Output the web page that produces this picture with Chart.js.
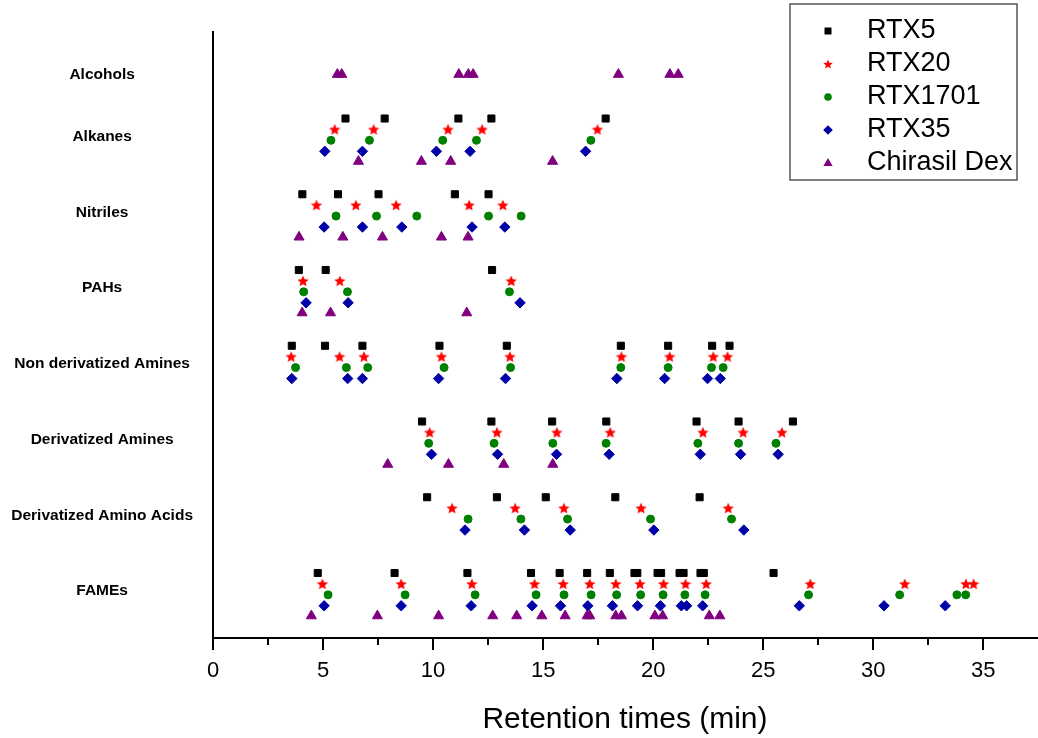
<!DOCTYPE html>
<html>
<head>
<meta charset="utf-8">
<script src="https://cdn.jsdelivr.net/npm/chart.js@4.4.1/dist/chart.umd.min.js"></script>
<style>
  html, body { margin: 0; padding: 0; background: #fff; }
  #wrap { width: 1038px; height: 738px; }
</style>
</head>
<body>
<div id="wrap"><canvas id="chart1" width="1038" height="738"></canvas></div>
<script>
// categories, top to bottom
const categories = ['Alcohols', 'Alkanes', 'Nitriles', 'PAHs', 'Non derivatized Amines',
  'Derivatized Amines', 'Derivatized Amino Acids', 'FAMEs'];
const seriesNames = ['RTX5', 'RTX20', 'RTX1701', 'RTX35', 'Chirasil Dex'];

// retention times (min), one row per category (same order as above)
const rtx5 = [
  [],
  [6.02, 7.80, 11.15, 12.65, 17.84],
  [4.06, 5.68, 7.52, 10.99, 12.52],
  [3.90, 5.12, 12.68],
  [3.58, 5.09, 6.79, 10.29, 13.35, 18.53, 20.68, 22.68, 23.47],
  [9.50, 12.65, 15.41, 17.87, 21.97, 23.88, 26.35],
  [9.73, 12.90, 15.12, 18.28, 22.11],
  [4.76, 8.25, 11.56, 14.45, 15.75, 17.00, 18.03, 19.15, 19.28, 20.20, 20.36, 21.20, 21.38, 22.15, 22.30, 25.47]
];
const rtx20 = [
  [],
  [5.53, 7.30, 10.68, 12.23, 17.47],
  [4.70, 6.49, 8.32, 11.64, 13.17],
  [4.09, 5.76, 13.55],
  [3.55, 5.75, 6.86, 10.38, 13.49, 18.56, 20.75, 22.73, 23.38],
  [9.84, 12.90, 15.62, 18.05, 22.26, 24.09, 25.85],
  [10.86, 13.73, 15.94, 19.45, 23.41],
  [4.97, 8.55, 11.76, 14.61, 15.91, 17.12, 18.30, 19.40, 20.47, 21.47, 22.41, 27.14, 31.43, 34.21, 34.56]
];
const rtx1701 = [
  [],
  [5.36, 7.11, 10.44, 11.97, 17.17],
  [5.59, 7.43, 9.26, 12.52, 14.00],
  [4.12, 6.11, 13.47],
  [3.75, 6.06, 7.03, 10.50, 13.52, 18.53, 20.68, 22.65, 23.18],
  [9.80, 12.77, 15.44, 17.86, 22.03, 23.88, 25.58],
  [11.59, 13.99, 16.11, 19.88, 23.56],
  [5.23, 8.73, 11.91, 14.68, 15.95, 17.18, 18.34, 19.43, 20.45, 21.44, 22.36, 27.06, 31.20, 33.80, 34.20]
];
const rtx35 = [
  [],
  [5.08, 6.79, 10.15, 11.68, 16.93],
  [5.05, 6.79, 8.58, 11.77, 13.26],
  [4.23, 6.14, 13.95],
  [3.58, 6.12, 6.79, 10.25, 13.29, 18.35, 20.52, 22.47, 23.05],
  [9.93, 12.93, 15.61, 18.00, 22.14, 23.97, 25.68],
  [11.45, 14.15, 16.23, 20.03, 24.12],
  [5.05, 8.55, 11.73, 14.50, 15.79, 17.03, 18.15, 19.29, 20.33, 21.28, 21.52, 22.25, 26.64, 30.49, 33.27]
];
const chirasilDex = [
  [5.65, 5.85, 11.17, 11.60, 11.82, 18.42, 20.76, 21.14],
  [6.61, 9.47, 10.80, 15.43],
  [3.91, 5.90, 7.70, 10.38, 11.59],
  [4.05, 5.34, 11.53],
  [],
  [7.94, 10.70, 13.21, 15.44],
  [],
  [4.47, 7.47, 10.25, 12.71, 13.80, 14.94, 16.00, 17.00, 17.12, 18.30, 18.56, 20.08, 20.43, 22.55, 23.03]
];

const xMajorTicks = [0, 5, 10, 15, 20, 25, 30, 35];
const xMinorTicks = [2.5, 7.5, 12.5, 17.5, 22.5, 27.5, 32.5];

// layout: row of each series inside a category band (band height = 1)
const rowOffset = [0.858, 0.714, 0.570, 0.425, 0.292];
const alcoholRow = 0.44;
const labelRow = 0.62;

const allSeries = [rtx5, rtx20, rtx1701, rtx35, chirasilDex];
const colors = ['#000000', '#ff0000', '#008000', '#0000a8', '#800080'];

function bandBase(ci) { return categories.length - 1 - ci; }

function makeStar(size, color) {
  const c = document.createElement('canvas');
  c.width = size; c.height = size;
  const g = c.getContext('2d');
  const cx = size / 2, cy = size / 2 + 0.5, ro = size / 2, ri = ro * 0.45;
  g.beginPath();
  for (let i = 0; i < 10; i++) {
    const r = i % 2 === 0 ? ro : ri;
    const a = -Math.PI / 2 + i * Math.PI / 5;
    g.lineTo(cx + r * Math.cos(a), cy + r * Math.sin(a));
  }
  g.closePath();
  g.fillStyle = color;
  g.fill();
  return c;
}
const starBig = makeStar(12, colors[1]);
const starSmall = makeStar(10, colors[1]);

const styles = ['rect', starBig, 'circle', 'rectRot', 'triangle'];
const radii = [5, 6, 4, 5.2, 5.8];

const datasets = allSeries.map((series, si) => {
  const pts = [];
  series.forEach((times, ci) => {
    const off = (ci === 0) ? alcoholRow : rowOffset[si];
    times.forEach(t => pts.push({ x: t, y: bandBase(ci) + off }));
  });
  return {
    label: seriesNames[si],
    data: pts,
    pointStyle: styles[si],
    pointRadius: radii[si],
    backgroundColor: colors[si],
    borderColor: colors[si],
    borderWidth: 1,
    showLine: false
  };
});

const yTicks = categories.map((c, ci) => bandBase(ci) + (ci === 0 ? alcoholRow : labelRow));

// short ticks between the labelled ones
const minorTicks = {
  id: 'minorTicks',
  afterDraw(chart) {
    const x = chart.scales.x;
    const ctx = chart.ctx;
    ctx.save();
    ctx.strokeStyle = '#000';
    ctx.lineWidth = 2;
    xMinorTicks.forEach(v => {
      const px = Math.round(x.getPixelForValue(v));
      ctx.beginPath();
      ctx.moveTo(px, x.top);
      ctx.lineTo(px, x.top + 7);
      ctx.stroke();
    });
    ctx.restore();
  }
};

// legend in a framed box, top right
const boxLegend = {
  id: 'boxLegend',
  afterDraw(chart) {
    const ctx = chart.ctx;
    ctx.save();
    ctx.fillStyle = '#fff';
    ctx.fillRect(790, 4, 227, 176);
    ctx.strokeStyle = '#555';
    ctx.lineWidth = 1.5;
    ctx.strokeRect(790, 4, 227, 176);
    ctx.font = '27px "Liberation Sans", Arial, sans-serif';
    ctx.textBaseline = 'middle';
    seriesNames.forEach((name, i) => {
      const y = 31 + 33 * i;
      const x = 828;
      ctx.fillStyle = colors[i];
      ctx.beginPath();
      if (i === 0) {
        ctx.rect(x - 3.5, y - 3.5, 7, 7);
      } else if (i === 1) {
        ctx.drawImage(starSmall, x - 5, y - 5);
      } else if (i === 2) {
        ctx.arc(x, y, 3.8, 0, Math.PI * 2);
      } else if (i === 3) {
        ctx.moveTo(x - 4.8, y); ctx.lineTo(x, y - 4.8); ctx.lineTo(x + 4.8, y); ctx.lineTo(x, y + 4.8);
      } else {
        ctx.moveTo(x, y - 5); ctx.lineTo(x + 4.6, y + 3); ctx.lineTo(x - 4.6, y + 3);
      }
      ctx.closePath();
      ctx.fill();
      ctx.fillStyle = '#000';
      ctx.fillText(name, 867, y);
    });
    ctx.restore();
  }
};

const ctx = document.getElementById('chart1');
new Chart(ctx, {
  type: 'scatter',
  data: { datasets: datasets },
  plugins: [minorTicks, boxLegend],
  options: {
    responsive: false,
    animation: false,
    events: [],
    layout: { autoPadding: false, padding: { top: 32, right: 1, bottom: 0, left: 0 } },
    plugins: { legend: { display: false }, tooltip: { enabled: false } },
    scales: {
      x: {
        type: 'linear',
        min: 0,
        max: 37.44,
        afterBuildTicks: s => { s.ticks = xMajorTicks.map(v => ({ value: v })); },
        afterFit: s => { s.height = 100; },
        grid: { drawOnChartArea: false, drawTicks: true, tickLength: 12, tickWidth: 2, tickColor: '#000', lineWidth: 2 },
        border: { display: true, color: '#000', width: 2 },
        ticks: {
          autoSkip: false, maxRotation: 0, padding: 8, color: '#000',
          font: { family: '"Liberation Sans", Arial, sans-serif', size: 22 }
        },
        title: {
          display: true, text: 'Retention times (min)', color: '#000',
          font: { family: '"Liberation Sans", Arial, sans-serif', size: 30 },
          padding: { top: 0, bottom: 0 }
        }
      },
      y: {
        type: 'linear',
        min: 0,
        max: 8,
        afterBuildTicks: s => { s.ticks = yTicks.map(v => ({ value: v })); },
        afterFit: s => { s.width = 213; },
        grid: { drawOnChartArea: false, drawTicks: false },
        border: { display: true, color: '#000', width: 2 },
        ticks: {
          autoSkip: false, crossAlign: 'center', padding: 20, color: '#000',
          font: { family: '"Liberation Sans", Arial, sans-serif', size: 15.5, weight: 'bold' },
          callback: (v, i) => categories[i]
        }
      }
    }
  }
});
</script>
</body>
</html>
